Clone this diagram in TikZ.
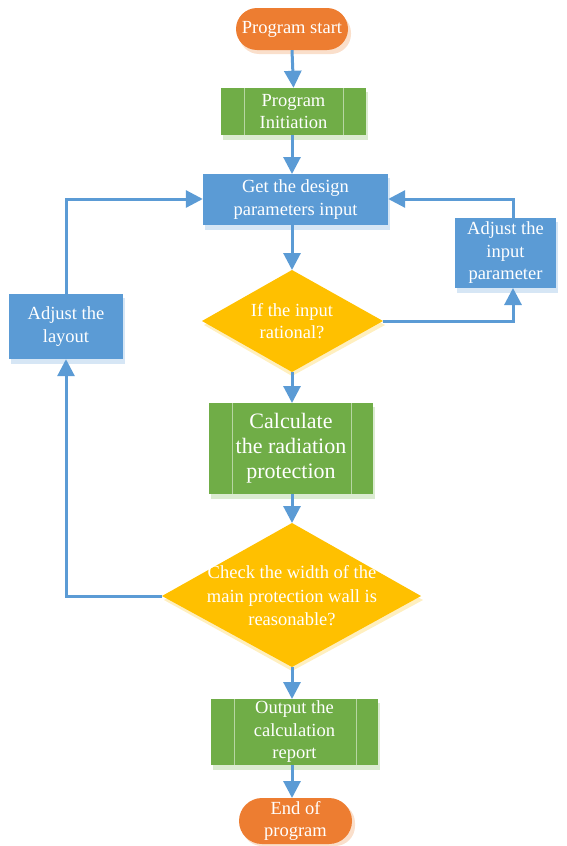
\documentclass[tikz,border=0pt]{standalone}
\usepackage{fontspec}
\setmainfont{Liberation Serif}
\usetikzlibrary{arrows.meta,shapes.geometric,shapes.misc,positioning}
\definecolor{orng}{HTML}{ED7D31}
\definecolor{grn}{HTML}{70AD47}
\definecolor{blu}{HTML}{5B9BD5}
\definecolor{ylw}{HTML}{FFC000}
\definecolor{arr}{HTML}{5B9BD5}
\tikzset{
  base/.style={text=white, align=center, inner sep=0pt, font=\fontsize{18.5}{22.5}\selectfont},
  term/.style={base, rounded rectangle, fill=orng},
  proc/.style={base, rectangle, fill=blu},
  pre/.style={base, rectangle, fill=grn},
  conn/.style={draw=arr, line width=3pt, -{Triangle[width=17pt,length=17pt]}},
  sep/.style={draw=grn!50!white, line width=0.8pt}
}
\begin{document}
\begin{tikzpicture}[x=1pt,y=-1pt]
\useasboundingbox (0,0) rectangle (566,846);
% shadows
\fill[orng!25, rounded corners=20pt] (239,13) rectangle (351,54);
\fill[grn!25] (223,92) rectangle (368,140);
\fill[blu!25] (205,178) rectangle (390,230);
\fill[grn!25] (211,407) rectangle (375,499);
\fill[grn!25] (213,703) rectangle (380,770);
\fill[orng!25, rounded corners=20pt] (242,803) rectangle (355,846);
\fill[blu!25] (457,222) rectangle (558,293);
\fill[blu!25] (11,298) rectangle (125,364);
\fill[ylw!25] (292,274) -- (385,325) -- (292,376) -- (204,325) -- cycle;
\fill[ylw!25] (292,527) -- (423,600) -- (292,671) -- (164,600) -- cycle;

% nodes
\node[term, minimum width=112pt, minimum height=42pt] (start) at (292,29) {Program start};
\node[pre, minimum width=145pt, minimum height=47pt] (init) at (293.5,111.5) {Program\\Initiation};
\draw[sep] (244,88) -- (244,135) (343,88) -- (343,135);
\node[proc, minimum width=185pt, minimum height=51pt] (get) at (295.5,199.5) {Get the design\\parameters input};
\fill[ylw] (292,270) -- (383,321) -- (292,372) -- (202,321) -- cycle;
\node[base] (if) at (292,321) {If the input\\rational?};
\coordinate (ifT) at (292,270);
\coordinate (ifB) at (292,372);
\coordinate (ifR) at (383,321);
\node[pre, minimum width=164pt, minimum height=91pt, font=\fontsize{22}{25}\selectfont] (calc) at (291,448.5) {Calculate\\the radiation\\protection};
\draw[sep] (232,403) -- (232,494) (351,403) -- (351,494);
\fill[ylw] (292,523) -- (421,596) -- (292,667) -- (162,596) -- cycle;
\node[base, font=\fontsize{18.5}{23.5}\selectfont] (chk) at (292,596) {Check the width of the\\main protection wall is\\reasonable?};
\coordinate (chkT) at (292,523);
\coordinate (chkB) at (292,667);
\coordinate (chkL) at (162,596);
\node[pre, minimum width=167pt, minimum height=66pt] (out) at (294.5,732) {Output the\\calculation\\report};
\draw[sep] (234,699) -- (234,765) (356,699) -- (356,765);
\node[term, minimum width=113pt, minimum height=46pt] (end) at (295.5,821) {End of\\program};
\node[proc, minimum width=101pt, minimum height=70pt] (adjin) at (505.5,253) {Adjust the\\input\\parameter};
\node[proc, minimum width=114pt, minimum height=65pt] (adjl) at (66,326.5) {Adjust the\\layout};

% connectors
\draw[conn] (start.south) -- (init.north);
\draw[conn] (init.south -| 292,0) -- (292,174);
\draw[conn] (292,225) -- (ifT);
\draw[conn] (ifB) -- (292,403);
\draw[conn] (292,494) -- (chkT);
\draw[conn] (chkB) -- (292,699);
\draw[conn] (292,765) -- (292,798);
\draw[conn] (ifR) -- (513,321) -- (513,288);
\draw[conn] (513,218) -- (513,199) -- (get.east |- 0,199);
\draw[conn] (chkL) -- (66,596) -- (adjl.south);
\draw[conn] (adjl.north) -- (66,199) -- (get.west |- 0,199);
\end{tikzpicture}
\end{document}
